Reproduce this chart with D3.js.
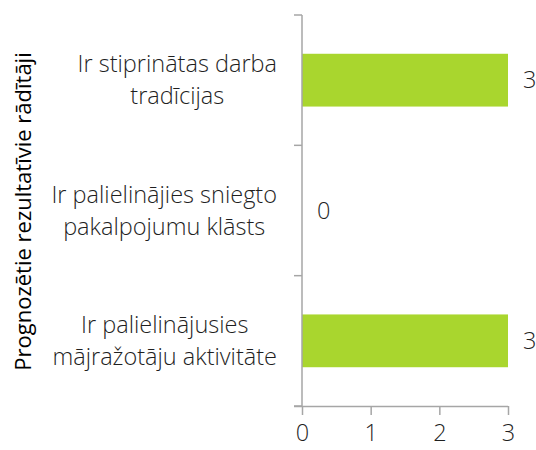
<!DOCTYPE html>
<html>
<head>
<meta charset="utf-8">
<script src="https://cdn.jsdelivr.net/npm/d3@7"></script>
<style>
  body { margin: 0; background: #fff; }
  svg text { font-family: "Open Sans", sans-serif; }
</style>
</head>
<body>
<svg id="chart" width="536" height="450"></svg>
<script>
// data
const categories = [
  ["Ir stiprinātas darba", "tradīcijas"],
  ["Ir palielinājies sniegto", "pakalpojumu klāsts"],
  ["Ir palielinājusies", "mājražotāju aktivitāte"]
];
const values = [3, 0, 3];
const xTicks = [0, 1, 2, 3];
const yTitle = "Prognozētie rezultatīvie rādītāji";

const svg = d3.select("#chart");

const margin = {left: 302, right: 28, top: 15, bottom: 44};
const width = 536, height = 450;

const x = d3.scaleLinear()
  .domain([0, 3])
  .range([margin.left, width - margin.right]);

const y = d3.scaleBand()
  .domain(d3.range(categories.length))
  .range([margin.top, height - margin.bottom])
  .paddingInner(0.595)
  .paddingOuter(0.2975);

const axisColor = "#a6a6a6";
const textColor = "#1f1f1f";
const fontSize = 23.5;

// bars
svg.append("g")
  .selectAll("rect")
  .data(values)
  .join("rect")
  .attr("x", x(0))
  .attr("y", (d, i) => y(i))
  .attr("width", d => x(d) - x(0))
  .attr("height", y.bandwidth())
  .attr("fill", "#a9d62e");

// value labels
svg.append("g")
  .selectAll("text")
  .data(values)
  .join("text")
  .attr("x", d => x(d) + 15)
  .attr("y", (d, i) => y(i) + y.bandwidth() / 2)
  .attr("dy", "0.35em")
  .attr("font-size", fontSize)
  .attr("font-weight", 300)
  .attr("fill", textColor)
  .text(d => d);

// x axis
const xAxis = svg.append("g")
  .attr("transform", `translate(0,${height - margin.bottom})`)
  .call(d3.axisBottom(x).tickValues(xTicks).tickFormat(d3.format("d"))
    .tickSize(9).tickSizeOuter(0).tickPadding(9));
xAxis.select(".domain").attr("stroke", axisColor).attr("stroke-width", 1.5)
  .attr("d", `M${margin.left - 8},0.5H${x(3)}`);
xAxis.selectAll(".tick line").attr("stroke", axisColor).attr("stroke-width", 1.5);
xAxis.selectAll(".tick text")
  .attr("font-size", fontSize)
  .attr("font-weight", 300)
  .attr("font-family", "Open Sans, sans-serif")
  .attr("fill", textColor);

// y axis (ticks on band edges)
const yAxisG = svg.append("g");
yAxisG.append("line")
  .attr("x1", margin.left).attr("x2", margin.left)
  .attr("y1", margin.top).attr("y2", height - margin.bottom)
  .attr("stroke", axisColor).attr("stroke-width", 1.5);
const edgeScale = d3.scaleLinear()
  .domain([0, categories.length])
  .range([margin.top, height - margin.bottom]);
yAxisG.selectAll("line.tick")
  .data(d3.range(categories.length + 1))
  .join("line")
  .attr("class", "tick")
  .attr("x1", margin.left - 8).attr("x2", margin.left)
  .attr("y1", d => edgeScale(d)).attr("y2", d => edgeScale(d))
  .attr("stroke", axisColor).attr("stroke-width", 1.5);

// category labels: block centered, widest line right edge at 277
const labelRight = 277;
const lineGap = 32;
const catG = svg.append("g");
categories.forEach((lines, i) => {
  const cy = y(i) + y.bandwidth() / 2;
  const t = catG.append("text")
    .attr("text-anchor", "middle")
    .attr("font-size", fontSize)
    .attr("font-weight", 300)
    .attr("fill", textColor);
  lines.forEach((ln, j) => {
    t.append("tspan")
      .attr("x", 0)
      .attr("y", cy + (j - (lines.length - 1) / 2) * lineGap)
      .attr("dy", "0.35em")
      .text(ln);
  });
  const maxW = d3.max(t.selectAll("tspan").nodes(), n => n.getComputedTextLength());
  t.selectAll("tspan").attr("x", labelRight - maxW / 2);
});

// y title
svg.append("text")
  .attr("transform", `translate(23,${(margin.top + height - margin.bottom) / 2 + 1}) rotate(-90)`)
  .attr("text-anchor", "middle")
  .attr("dy", "0.35em")
  .attr("font-size", 22)
  .attr("fill", "#000")
  .text(yTitle);
</script>
</body>
</html>
